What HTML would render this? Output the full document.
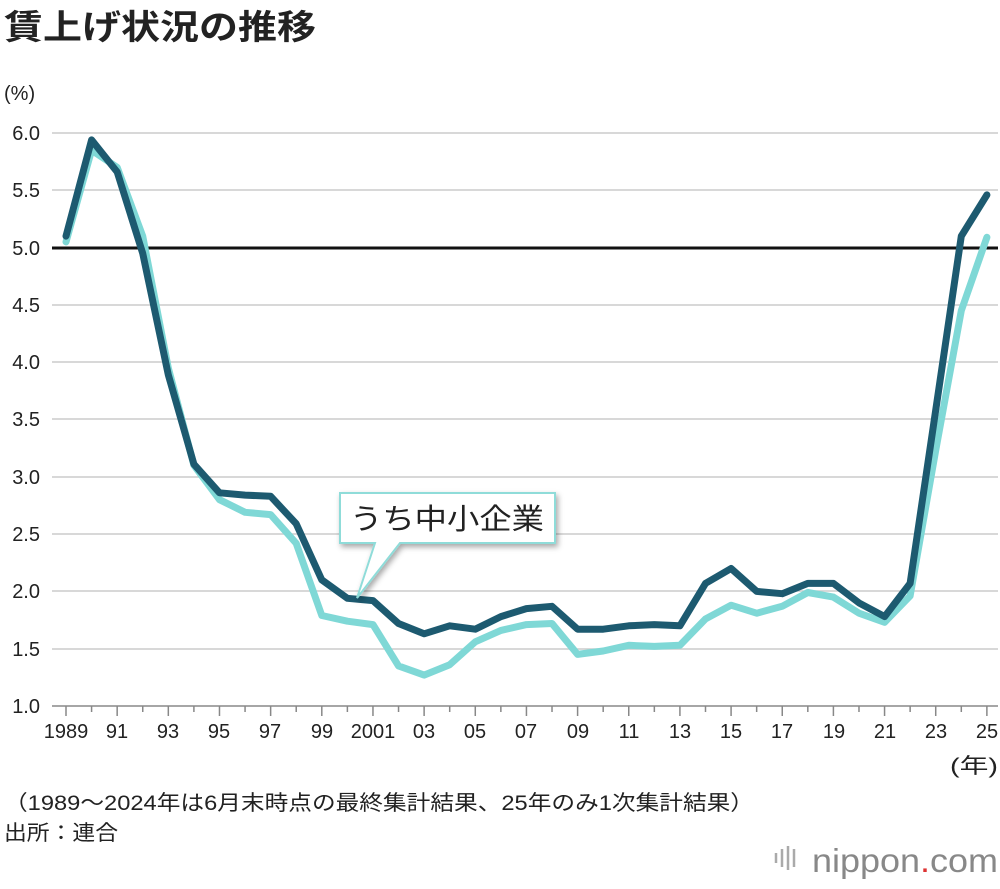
<!DOCTYPE html>
<html><head><meta charset="utf-8"><style>
body{margin:0;background:#fff;}
svg text{font-family:"Liberation Sans","Noto Sans CJK JP",sans-serif;}
</style></head><body>
<svg width="1000" height="884" viewBox="0 0 1000 884" xmlns="http://www.w3.org/2000/svg">
<defs><filter id="sh" x="-20%" y="-20%" width="140%" height="150%"><feDropShadow dx="2" dy="3" stdDeviation="3" flood-color="#000" flood-opacity="0.35"/></filter></defs>
<text x="4" y="39" font-size="34" font-weight="bold" fill="#222" textLength="312" lengthAdjust="spacingAndGlyphs">賃上げ状況の推移</text>
<text x="4" y="100" font-size="20" fill="#222">(%)</text>
<g stroke="#ccc" stroke-width="1.5">
<line x1="52" y1="133" x2="998" y2="133"/><line x1="52" y1="190" x2="998" y2="190"/>
<line x1="52" y1="305" x2="998" y2="305"/><line x1="52" y1="362" x2="998" y2="362"/>
<line x1="52" y1="419" x2="998" y2="419"/><line x1="52" y1="477" x2="998" y2="477"/>
<line x1="52" y1="534" x2="998" y2="534"/><line x1="52" y1="591" x2="998" y2="591"/>
<line x1="52" y1="649" x2="998" y2="649"/>
</g>
<line x1="52" y1="706" x2="998" y2="706" stroke="#888" stroke-width="1.5"/>
<line x1="52" y1="248" x2="998" y2="248" stroke="#111" stroke-width="3"/>
<g font-size="20" fill="#222" text-anchor="end">
<text x="40" y="140">6.0</text><text x="40" y="197">5.5</text><text x="40" y="255">5.0</text>
<text x="40" y="312">4.5</text><text x="40" y="369">4.0</text><text x="40" y="426">3.5</text>
<text x="40" y="484">3.0</text><text x="40" y="541">2.5</text><text x="40" y="598">2.0</text>
<text x="40" y="656">1.5</text><text x="40" y="713">1.0</text>
</g>
<g id="ticks" stroke="#888" stroke-width="1.5"></g>
<g font-size="20" fill="#222" text-anchor="middle">
<text x="66" y="738">1989</text><text x="117" y="738">91</text><text x="168" y="738">93</text>
<text x="219" y="738">95</text><text x="270" y="738">97</text><text x="322" y="738">99</text>
<text x="373" y="738">2001</text><text x="424" y="738">03</text><text x="475" y="738">05</text>
<text x="526" y="738">07</text><text x="578" y="738">09</text><text x="629" y="738">11</text>
<text x="680" y="738">13</text><text x="731" y="738">15</text><text x="782" y="738">17</text>
<text x="834" y="738">19</text><text x="885" y="738">21</text><text x="936" y="738">23</text>
<text x="987" y="738">25</text>
</g>
<text x="950" y="773" font-size="21" fill="#222" textLength="48" lengthAdjust="spacingAndGlyphs">(年)</text>
<polyline id="light" fill="none" stroke="#7fd8d6" stroke-width="7" stroke-linejoin="round" stroke-linecap="round"/>
<polyline id="dark" fill="none" stroke="#1d5a70" stroke-width="7" stroke-linejoin="round" stroke-linecap="round"/>
<g filter="url(#sh)">
<path d="M340,493 H555 V543 H400 L357,598 L375,543 H340 Z" fill="#fff" stroke="#8fdcd9" stroke-width="2"/>
</g>
<text x="350" y="529" font-size="29" fill="#222" textLength="194" lengthAdjust="spacingAndGlyphs">うち中小企業</text>
<text x="4" y="810" font-size="21" fill="#222" textLength="750" lengthAdjust="spacingAndGlyphs">（1989～2024年は6月末時点の最終集計結果、25年のみ1次集計結果）</text>
<text x="4" y="840" font-size="21" fill="#222" textLength="114" lengthAdjust="spacingAndGlyphs">出所：連合</text>
<text x="998" y="872" font-size="33" fill="#888" text-anchor="end" textLength="186" lengthAdjust="spacingAndGlyphs">nippon<tspan fill="#d33">.</tspan>com</text>
<g stroke="#aaa" stroke-width="2.5"><line x1="776" y1="853" x2="776" y2="863"/><line x1="782" y1="849" x2="782" y2="867"/><line x1="788" y1="846" x2="788" y2="870"/><line x1="794" y1="849" x2="794" y2="867"/></g>
</svg>
<script>
var d=[5.10,5.94,5.66,4.95,3.89,3.11,2.86,2.84,2.83,2.59,2.10,1.94,1.92,1.72,1.63,1.70,1.67,1.78,1.85,1.87,1.67,1.67,1.70,1.71,1.70,2.07,2.20,2.00,1.98,2.07,2.07,1.90,1.78,2.07,3.58,5.10,5.46];
var l=[5.05,5.85,5.70,5.10,3.95,3.10,2.80,2.69,2.67,2.42,1.79,1.74,1.71,1.35,1.27,1.36,1.56,1.66,1.71,1.72,1.45,1.48,1.53,1.52,1.53,1.76,1.88,1.81,1.87,1.99,1.95,1.81,1.73,1.96,3.23,4.45,5.09];
function pts(a){return a.map(function(v,i){return (66+i*25.58).toFixed(1)+","+(706-(v-1)*114.6).toFixed(1)}).join(" ");}
document.getElementById("dark").setAttribute("points",pts(d));
document.getElementById("light").setAttribute("points",pts(l));
var g=document.getElementById("ticks"),s="";
for(var i=0;i<37;i++){var x=66+i*25.58;s+='<line x1="'+x+'" y1="706" x2="'+x+'" y2="'+(i%2==0?716:712)+'"/>';}
g.innerHTML=s;
</script>
</body></html>
